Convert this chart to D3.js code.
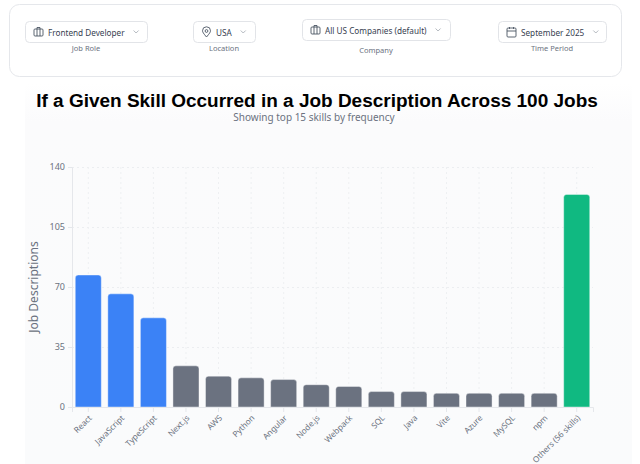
<!DOCTYPE html>
<html>
<head>
<meta charset="utf-8">
<script src="https://cdn.jsdelivr.net/npm/d3@7"></script>
<style>
  html, body { margin: 0; padding: 0; background: #fff; }
  svg { display: block; font-family: "Noto Sans", "Open Sans", sans-serif; }
</style>
</head>
<body>
<svg id="chart" width="640" height="464"></svg>
<script>
// chart data
var skills = ["React", "JavaScript", "TypeScript", "Next.js", "AWS", "Python", "Angular", "Node.js",
              "Webpack", "SQL", "Java", "Vite", "Azure", "MySQL", "npm", "Others (56 skills)"];
var counts = [77, 66, 52, 24, 18, 17, 16, 13, 12, 9, 9, 8, 8, 8, 8, 124];
var groups = ["core", "core", "core", "other", "other", "other", "other", "other",
              "other", "other", "other", "other", "other", "other", "other", "rest"];
var yTicks = [0, 35, 70, 105, 140];

// filter bar texts
var filterValues = ["Frontend Developer", "USA", "All US Companies (default)", "September 2025"];
var filterLabels = ["Job Role", "Location", "Company", "Time Period"];

var svg = d3.select("#chart"),
    margin = {top: 167, right: 47, bottom: 57, left: 72},
    width = +svg.attr("width") - margin.left - margin.right,
    height = +svg.attr("height") - margin.top - margin.bottom;

var defs = svg.append("defs");
var grad = defs.append("linearGradient").attr("id", "bg").attr("x1", 0).attr("y1", 0).attr("x2", 0).attr("y2", 1);
grad.append("stop").attr("offset", "0%").attr("stop-color", "#ffffff");
grad.append("stop").attr("offset", "10%").attr("stop-color", "#fbfbfc");
grad.append("stop").attr("offset", "100%").attr("stop-color", "#fafbfc");

/* background panel behind the chart */
svg.append("rect").attr("x", 25).attr("y", 83).attr("width", 607).attr("height", 381).attr("fill", "url(#bg)");

/* filter card */
svg.append("rect")
    .attr("x", 9.5).attr("y", 4.5).attr("width", 612).attr("height", 72)
    .attr("rx", 10).attr("fill", "#fff").attr("stroke", "#e5e7eb");

var boxes = [
  {x: 25, y: 21, w: 122, icon: "case"},
  {x: 193, y: 21, w: 62, icon: "pin"},
  {x: 302, y: 19, w: 148, icon: "case"},
  {x: 498, y: 21, w: 108, icon: "cal"}
];
var labelY = [51, 51, 53, 51];

boxes.forEach(function(b, i) {
  var g = svg.append("g").attr("transform", "translate(" + b.x + "," + b.y + ")");
  g.append("rect").attr("x", 0.5).attr("y", 0.5).attr("width", b.w).attr("height", 21)
      .attr("rx", 4).attr("fill", "#fff").attr("stroke", "#e2e4e8");
  var ic = g.append("g").attr("transform", "translate(9,6)")
      .attr("fill", "none").attr("stroke", "#4b5563").attr("stroke-width", 0.9);
  if (b.icon === "case") {
    ic.append("rect").attr("x", 0).attr("y", 2).attr("width", 9).attr("height", 7).attr("rx", 1);
    ic.append("path").attr("d", "M3,2 V0.5 H6 V2 M3,2 V9 M6,2 V9");
  } else if (b.icon === "pin") {
    ic.append("path").attr("d", "M4.5,10 C1.5,6.5 0.5,5 0.5,3.8 A4,4 0 0 1 8.5,3.8 C8.5,5 7.5,6.5 4.5,10 Z");
    ic.append("circle").attr("cx", 4.5).attr("cy", 4).attr("r", 1.4);
  } else {
    ic.append("rect").attr("x", 0).attr("y", 1).attr("width", 9).attr("height", 9).attr("rx", 1);
    ic.append("path").attr("d", "M0,4 H9 M2.5,0 V2 M6.5,0 V2");
  }
  var t = g.append("text").attr("x", 23).attr("y", 14.5)
      .attr("font-size", 8.2).attr("fill", "#374151").text(filterValues[i]);
  var tw = t.node().getComputedTextLength();
  g.append("path").attr("d", "M" + (23 + tw + 9) + ",9.5 l2.5,2.5 l2.5,-2.5")
      .attr("fill", "none").attr("stroke", "#a1a7b0").attr("stroke-width", 0.8);
  svg.append("text").attr("x", b.x + b.w / 2).attr("y", labelY[i])
      .attr("text-anchor", "middle").attr("font-size", 7.5).attr("fill", "#6b7280")
      .text(filterLabels[i]);
});

/* titles */
var title = svg.append("text")
    .attr("x", 317).attr("y", 106.5)
    .attr("text-anchor", "middle")
    .attr("font-family", "'Liberation Sans', Arial, sans-serif")
    .attr("font-weight", "bold").attr("font-size", 18)
    .attr("fill", "#000")
    .text("If a Given Skill Occurred in a Job Description Across 100 Jobs");
var tl = title.node().getComputedTextLength();
if (tl > 0) title.attr("font-size", 18 * 562 / tl);

svg.append("text")
    .attr("x", 314).attr("y", 121)
    .attr("text-anchor", "middle").attr("font-size", 10).attr("fill", "#6b7280")
    .text("Showing top 15 skills by frequency");

var g = svg.append("g").attr("transform", "translate(" + margin.left + "," + margin.top + ")");

var x = d3.scaleBand()
    .domain(skills)
    .range([0, width])
    .paddingInner(0.2)
    .paddingOuter(0.1);

var y = d3.scaleLinear()
    .domain([0, 140])
    .range([height, 0]);

var color = d3.scaleOrdinal()
    .domain(["core", "other", "rest"])
    .range(["#3b82f6", "#6b7280", "#10b981"]);

/* grid */
g.append("g").selectAll("line")
    .data(yTicks.slice(1))
    .enter().append("line")
      .attr("x1", 0).attr("x2", width)
      .attr("y1", function(d) { return y(d) + 0.5; })
      .attr("y2", function(d) { return y(d) + 0.5; })
      .attr("stroke", "#eceef1").attr("stroke-dasharray", "2,3");

g.append("g").selectAll("line")
    .data(skills)
    .enter().append("line")
      .attr("x1", function(d) { return x(d) + x.bandwidth() / 2; })
      .attr("x2", function(d) { return x(d) + x.bandwidth() / 2; })
      .attr("y1", 0).attr("y2", height)
      .attr("stroke", "#eef0f2").attr("stroke-dasharray", "2,3");

/* bars with rounded tops */
function barPath(x0, y0, w, h, r) {
  r = Math.min(r, h, w / 2);
  return "M" + x0 + "," + (y0 + h) +
    "V" + (y0 + r) +
    "Q" + x0 + "," + y0 + " " + (x0 + r) + "," + y0 +
    "H" + (x0 + w - r) +
    "Q" + (x0 + w) + "," + y0 + " " + (x0 + w) + "," + (y0 + r) +
    "V" + (y0 + h) + "Z";
}

g.append("g").selectAll("path")
    .data(skills.map(function(s, i) { return {skill: s, value: counts[i], group: groups[i]}; }))
    .enter().append("path")
      .attr("d", function(d) {
        return barPath(x(d.skill), y(d.value), x.bandwidth(), height - y(d.value), 3);
      })
      .attr("fill", function(d) { return color(d.group); })
      .attr("stroke", "#ffffff").attr("stroke-opacity", 0.5).attr("stroke-width", 0.8);

/* X axis */
var xAxis = g.append("g")
    .attr("transform", "translate(0," + height + ")")
    .call(d3.axisBottom(x).tickSizeOuter(0).tickSize(5));
xAxis.select(".domain").attr("stroke", "#e5e7eb");
xAxis.selectAll(".tick line").attr("stroke", "#e5e7eb");
xAxis.selectAll(".tick text")
    .attr("font-family", "'Noto Sans', sans-serif")
    .attr("font-size", 8.2).attr("fill", "#6b7280")
    .attr("text-anchor", "end")
    .attr("x", 0).attr("y", 0).attr("dy", "0.35em")
    .attr("transform", "translate(2,9.5) rotate(-45)");

/* Y axis */
var yAxis = g.append("g")
    .call(d3.axisLeft(y).tickValues(yTicks).tickSizeOuter(0).tickSize(4).tickPadding(3));
yAxis.select(".domain").attr("stroke", "#e5e7eb");
yAxis.selectAll(".tick line").attr("stroke", "#e5e7eb");
yAxis.selectAll(".tick text")
    .attr("font-family", "'Noto Sans', sans-serif")
    .attr("font-size", 9).attr("fill", "#6b7280");

svg.append("text")
    .attr("transform", "translate(38," + (margin.top + height / 2) + ") rotate(-90)")
    .attr("text-anchor", "middle")
    .attr("font-size", 12).attr("fill", "#6b7280")
    .text("Job Descriptions");
</script>
</body>
</html>
